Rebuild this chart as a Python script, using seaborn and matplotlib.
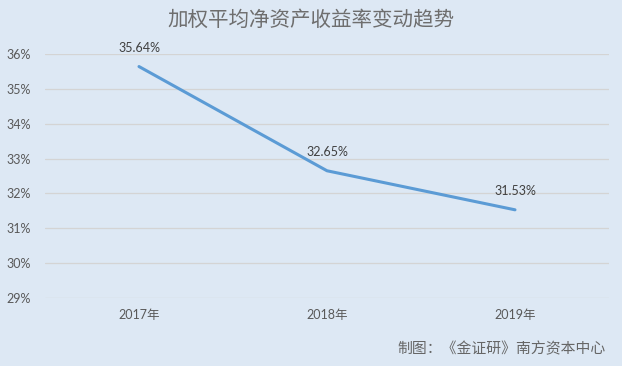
import matplotlib
matplotlib.use("Agg")
import matplotlib.pyplot as plt
import seaborn as sns
import pandas as pd

years = ["2017年", "2018年", "2019年"]
roe = [35.64, 32.65, 31.53]
yticks = [29, 30, 31, 32, 33, 34, 35, 36]
title = "加权平均净资产收益率变动趋势"
source = "制图：《金证研》南方资本中心"

bg = "#dde8f4"
sns.set_theme(style="white")
plt.rcParams["font.family"] = ["Lato", "Noto Sans CJK SC", "DejaVu Sans"]

df = pd.DataFrame({"year": years, "roe": roe})

fig = plt.figure(figsize=(6.22, 3.66), dpi=100, facecolor=bg)
ax = fig.add_axes([45/622, 1-298/366, 564/622, (298-54)/366])
ax.set_facecolor(bg)

sns.lineplot(data=df, x="year", y="roe", ax=ax, color="#5b9bd5", linewidth=2.2, sort=False)

ax.set_xlim(-0.5, 2.5)
ax.set_ylim(29, 36)
ax.set_yticks(yticks)
ax.set_yticklabels([f"{v}%" for v in yticks])
ax.yaxis.grid(True, color="#d4d4d4", linewidth=0.9)
ax.set_axisbelow(True)
for s in ax.spines.values():
    s.set_visible(False)
ax.set_xlabel("")
ax.set_ylabel("")
ax.tick_params(axis="both", length=0, labelsize=9, colors="#595959")
ax.tick_params(axis="x", pad=8)
ax.tick_params(axis="y", pad=10)

for i, v in enumerate(roe):
    ax.annotate(f"{v:.2f}%", (i, v), xytext=(0, 9), textcoords="offset points",
                ha="center", va="bottom", fontsize=9, color="#404040")

fig.text(0.5, 1-20/366, title, ha="center", va="center", fontsize=14.8,
         color="#6e6e6e", family=["Noto Sans CJK SC"], fontweight="light")
fig.text(606/622, 1-349/366, source, ha="right", va="center", fontsize=10.7,
         color="#666666", family=["Noto Sans CJK SC"])

fig.savefig("out.png", dpi=100, facecolor=bg)
